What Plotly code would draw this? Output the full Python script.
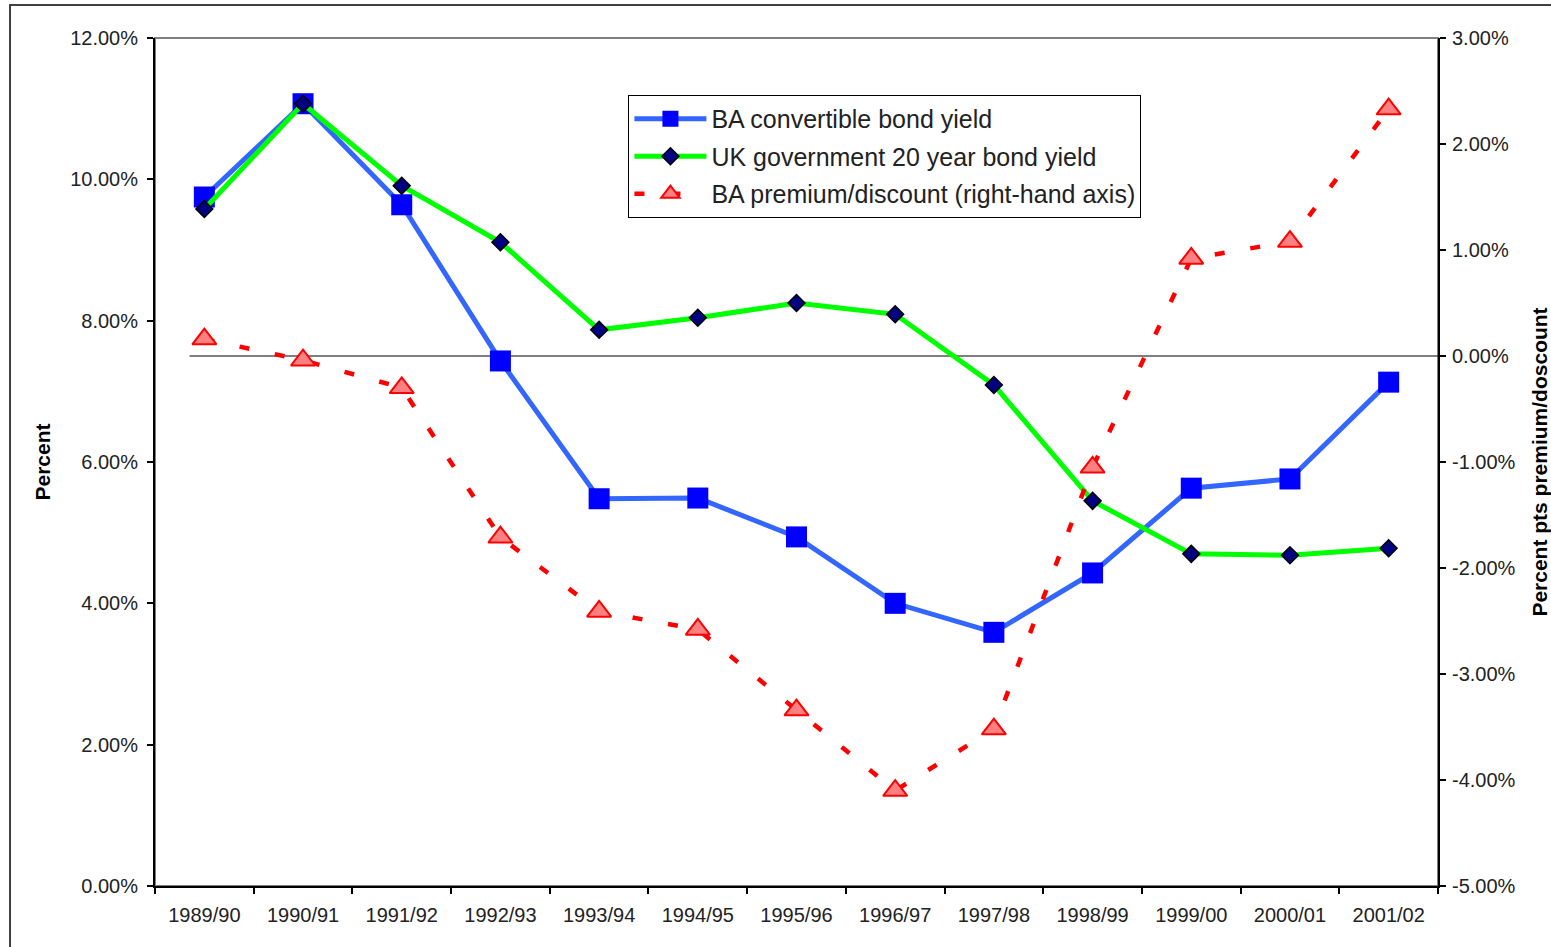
import plotly.graph_objects as go

# Financial years on the category axis
years = ["1989/90", "1990/91", "1991/92", "1992/93", "1993/94", "1994/95", "1995/96",
         "1996/97", "1997/98", "1998/99", "1999/00", "2000/01", "2001/02"]

# Yields, percent
ba_convertible = [9.75, 11.07, 9.64, 7.43, 5.48, 5.49, 4.94, 4.00, 3.59, 4.43, 5.63, 5.76, 7.13]
uk_gov_20y = [9.58, 11.07, 9.91, 9.11, 7.87, 8.04, 8.25, 8.09, 7.09, 5.45, 4.70, 4.68, 4.78]

# Premium / discount, percentage points (right-hand axis)
ba_premium = [0.16, -0.04, -0.30, -1.71, -2.41, -2.58, -3.34, -4.10, -3.52, -1.05, 0.92, 1.08, 2.33]

# Axis ticks
left_ticks = [0, 2, 4, 6, 8, 10, 12]
left_labels = ["0.00%", "2.00%", "4.00%", "6.00%", "8.00%", "10.00%", "12.00%"]
right_ticks = [-5, -4, -3, -2, -1, 0, 1, 2, 3]
right_labels = ["-5.00%", "-4.00%", "-3.00%", "-2.00%", "-1.00%", "0.00%", "1.00%", "2.00%", "3.00%"]

FONT = "Liberation Sans, Arial, sans-serif"
TXT = "#222222"

fig = go.Figure()

fig.add_trace(go.Scatter(
    x=years, y=ba_convertible, name="BA convertible bond yield",
    mode="lines+markers", legendgroup="a",
    line=dict(color="#3366FF", width=5),
    marker=dict(symbol="square", size=21, color="#0000FF", line=dict(width=0)),
))
fig.add_trace(go.Scatter(
    x=years, y=uk_gov_20y, name="UK government 20 year bond yield",
    mode="lines+markers", legendgroup="b",
    line=dict(color="#00FF00", width=5),
    marker=dict(symbol="diamond", size=13, color="#000080", line=dict(color="#000000", width=1.5)),
))
fig.add_trace(go.Scatter(
    x=years, y=ba_premium, name="BA premium/discount (right-hand axis)",
    mode="lines+markers", legendgroup="c", yaxis="y2",
    line=dict(color="#FF0000", width=4.5, dash="10px,26px"),
    marker=dict(symbol="triangle-up", size=21, color="#FF8080", line=dict(color="#FF0000", width=2)),
))

tickfont = dict(family=FONT, size=20, color=TXT)
titlefont = dict(family=FONT, size=21, color="#000000", weight="bold")

fig.update_layout(
    width=1551, height=947,
    margin=dict(l=155, r=113, t=38, b=61),
    paper_bgcolor="white", plot_bgcolor="white",
    showlegend=True,
    legend=dict(
        x=0.369, y=0.9328, xanchor="left", yanchor="top",
        bgcolor="white", bordercolor="#000000", borderwidth=1,
        font=dict(family=FONT, size=25, color=TXT),
        itemwidth=72, tracegroupgap=2,
    ),
    xaxis=dict(
        type="category", range=[-0.5, 12.5], tickson="boundaries",
        ticks="outside", ticklen=6, tickcolor="#000", tickwidth=1.5,
        showline=True, linecolor="#000", linewidth=2, automargin=False,
        showgrid=False, zeroline=False, tickfont=tickfont, ticklabelstandoff=10,
    ),
    yaxis=dict(
        range=[0, 12], tickvals=left_ticks, ticktext=left_labels,
        ticks="outside", ticklen=6, tickcolor="#000", tickwidth=1.5,
        showline=True, linecolor="#000", linewidth=2, automargin=False,
        showgrid=False, zeroline=False, tickfont=tickfont, ticklabelstandoff=5,
        title=dict(text="Percent", font=titlefont, standoff=14),
    ),
    yaxis2=dict(
        range=[-5, 3], tickvals=right_ticks, ticktext=right_labels,
        overlaying="y", side="right",
        ticks="outside", ticklen=6, tickcolor="#000", tickwidth=1.5,
        showline=True, linecolor="#000", linewidth=2, automargin=False,
        showgrid=False, zeroline=False, tickfont=tickfont, ticklabelstandoff=2,
        title=dict(text="Percent pts premium/doscount", font=titlefont, standoff=18),
    ),
    # inner halves of the crossing tick marks
    xaxis2=dict(
        overlaying="x", range=[-0.5, 12.5], tickvals=[i - 0.5 for i in range(14)],
        ticks="inside", ticklen=5, tickcolor="#000", tickwidth=1.5, automargin=False,
        showticklabels=False, showline=False, showgrid=False, zeroline=False,
    ),
    yaxis3=dict(
        overlaying="y", range=[0, 12], tickvals=left_ticks,
        ticks="inside", ticklen=5, tickcolor="#000", tickwidth=1.5, automargin=False,
        showticklabels=False, showline=False, showgrid=False, zeroline=False,
    ),
    yaxis4=dict(
        overlaying="y", side="right", range=[-5, 3], tickvals=right_ticks,
        ticks="inside", ticklen=5, tickcolor="#000", tickwidth=1.5, automargin=False,
        showticklabels=False, showline=False, showgrid=False, zeroline=False,
    ),
    shapes=[
        # plot-area frame
        dict(type="rect", xref="paper", yref="paper", x0=0, x1=1, y0=0, y1=1,
             line=dict(color="#808080", width=2), layer="below"),
        # chart-area frame
        dict(type="rect", xref="paper", yref="paper", x0=-0.113, x1=1.3, y0=-0.3, y1=1.039,
             line=dict(color="#404040", width=2), layer="below"),
        # zero reference for the premium/discount axis
        dict(type="line", xref="x", yref="y2", x0=-0.15, x1=12.5, y0=0, y1=0,
             line=dict(color="#000000", width=1.2), layer="below"),
    ],
)

fig.write_html("out.html")
